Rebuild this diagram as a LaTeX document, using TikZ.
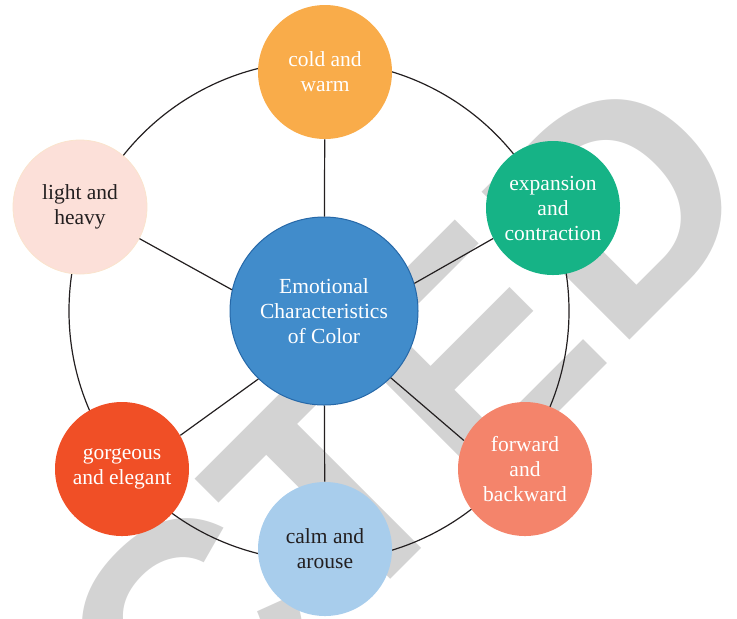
\documentclass[tikz,border=0pt]{standalone}
\usepackage{fontspec}
\setmainfont{Liberation Serif}
\newfontfamily\markfont{Liberation Sans}
\usepackage{tikz}
\usetikzlibrary{positioning}

\definecolor{hubblue}{RGB}{65,140,203}
\definecolor{hubedge}{RGB}{38,104,168}
\definecolor{warmorange}{RGB}{249,172,74}
\definecolor{palepink}{RGB}{252,224,217}
\definecolor{pinkedge}{RGB}{250,228,205}
\definecolor{tealgreen}{RGB}{22,179,134}
\definecolor{redorange}{RGB}{240,79,38}
\definecolor{skyblue}{RGB}{168,205,236}
\definecolor{salmon}{RGB}{244,132,107}
\definecolor{inkdark}{RGB}{35,31,32}
\definecolor{markgray}{RGB}{211,211,211}

\begin{document}
\begin{tikzpicture}[
    x=0.5pt, y=-0.5pt,
    spoke/.style={draw=inkdark, line width=0.6pt},
    bubble/.style={circle, minimum size=67pt, inner sep=0pt, align=center,
        font=\fontsize{10.75}{12.5}\selectfont, text=white},
    darktext/.style={text=inkdark}
]
\useasboundingbox (0,0) rectangle (737,618);

% Watermark behind everything
\begin{scope}
    \clip (0,0) rectangle (737,618);
    \node[rotate=45, anchor=base east, inner sep=0pt, text=markgray,
        font=\markfont\fontsize{152}{152}\bfseries\selectfont]
        (stamp) at (771,199.3) {RETRACTED};
\end{scope}

% Outer ring
\coordinate (ringc) at (319,311);
\draw[spoke] (ringc) circle[radius=125pt];

% Central node
\node[bubble, minimum size=94pt, fill=hubblue, draw=hubedge, line width=0.5pt]
    (hub) at (324,311) {Emotional\\Characteristics\\of Color};

% Surrounding nodes
\node[bubble, fill=warmorange] (cold) at (325,72) {cold and\\warm};
\node[bubble, darktext, fill=palepink, draw=pinkedge, line width=0.4pt]
    (light) at (80,207) {light and\\heavy};
\node[bubble, fill=tealgreen] (expand) at (553,208) {expansion\\and\\contraction};
\node[bubble, fill=redorange] (gorgeous) at (122,469) {gorgeous\\and elegant};
\node[bubble, darktext, fill=skyblue] (calm) at (325,549) {calm and\\arouse};
\node[bubble, fill=salmon] (forward) at (525,469) {forward\\and\\backward};

% Spokes
\draw[spoke] (hub) -- (cold);
\draw[spoke] (hub.167) -- (light.332);
\draw[spoke] (hub.17) -- (expand.207);
\draw[spoke] (hub.226) -- (gorgeous.30);
\draw[spoke] (hub) -- (calm);
\draw[spoke] (hub.315) -- (forward.155);
\end{tikzpicture}
\end{document}
